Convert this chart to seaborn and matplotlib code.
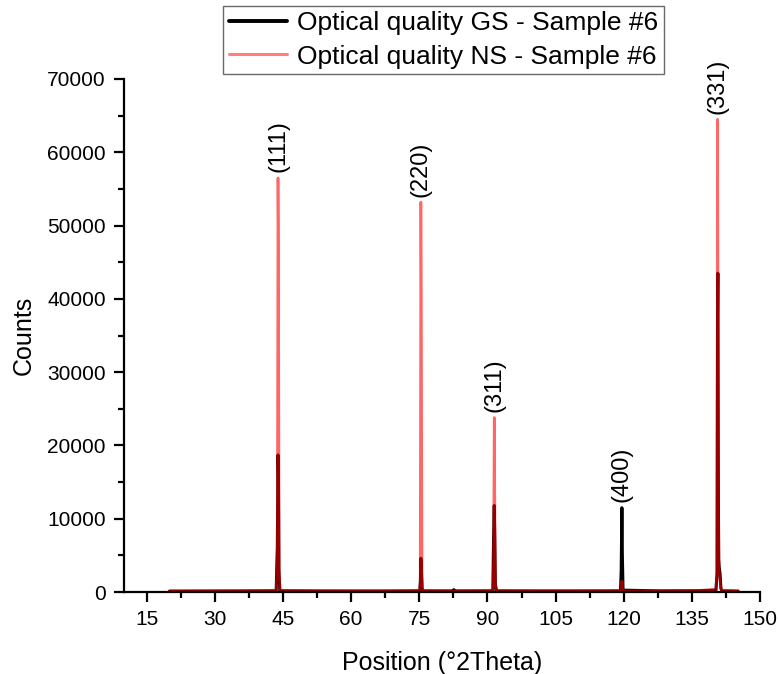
import numpy as np
import pandas as pd
import matplotlib
matplotlib.use("Agg")
import matplotlib.pyplot as plt
from matplotlib.ticker import MultipleLocator
import seaborn as sns

# Diffraction scan of the optical quality sample #6 (GS and NS), counts vs 2-theta
gs_two_theta = [20.0, 28.0, 36.0, 43.5, 43.75, 43.9, 44.0, 44.1, 44.3, 52.0, 60.0, 68.0,
                75.1, 75.25, 75.35, 75.45, 75.6, 75.8, 82.4, 82.6, 82.8, 91.2, 91.35,
                91.5, 91.6, 91.75, 92.0, 100.0, 110.0, 119.3, 119.45, 119.6, 119.7,
                119.85, 128.0, 136.0, 140.3, 140.55, 140.65, 140.72, 140.82, 140.9,
                141.0, 141.2, 141.4, 141.6, 145.2]
gs_counts = [120, 130, 140, 160, 6000, 18700, 15500, 3000, 160, 140, 130, 130,
             150, 1500, 4600, 3500, 500, 150, 140, 320, 140, 150, 7300,
             11800, 8000, 1000, 150, 140, 140, 150, 3000, 11500, 5000,
             250, 150, 170, 250, 2500, 38000, 43500, 16000, 4500,
             3500, 2500, 500, 150, 120]

ns_two_theta = [20.0, 28.0, 36.0, 43.5, 43.75, 43.9, 44.0, 44.15, 44.35, 52.0, 60.0,
                68.0, 75.1, 75.2, 75.35, 75.45, 75.6, 75.8, 84.0, 91.2, 91.35, 91.5,
                91.6, 91.75, 92.0, 100.0, 110.0, 119.4, 119.6, 119.8, 128.0, 136.0,
                140.3, 140.55, 140.65, 140.72, 140.82, 141.0, 141.2, 141.5, 145.2]
ns_counts = [120, 140, 150, 250, 5000, 56500, 47000, 3000, 250, 150, 140,
             160, 250, 1200, 53200, 40000, 2000, 160, 160, 250, 4000, 23800,
             15000, 1000, 200, 160, 160, 160, 1500, 160, 160, 200,
             350, 3000, 64500, 50000, 15000, 3000, 1500, 250, 120]

# Reflection labels and where they sit
hkl_labels = ["(111)", "(220)", "(311)", "(400)", "(331)"]
hkl_positions = [43.9, 75.35, 91.5, 119.6, 140.68]
hkl_tops = [56500, 53200, 23800, 11500, 64500]

gs_name = "Optical quality GS - Sample #6"
ns_name = "Optical quality NS - Sample #6"

sns.set_theme(style="ticks")
plt.rcParams["font.family"] = ["Liberation Sans", "DejaVu Sans"]
plt.rcParams["text.color"] = "black"
plt.rcParams["axes.labelcolor"] = "black"
plt.rcParams["xtick.color"] = "black"
plt.rcParams["ytick.color"] = "black"

fig = plt.figure(figsize=(7.79, 6.74), dpi=100)
ax = fig.add_axes([124 / 779, 1 - 592 / 674, (760 - 124) / 779, (592 - 79) / 674])

gs = pd.DataFrame({"theta": gs_two_theta, "counts": gs_counts})
ns = pd.DataFrame({"theta": ns_two_theta, "counts": ns_counts})

sns.lineplot(data=gs, x="theta", y="counts", color="black", lw=2.2, ax=ax,
             label=gs_name, legend=False)
sns.lineplot(data=ns, x="theta", y="counts", color="red", lw=1.9, alpha=0.6, ax=ax,
             label=ns_name, legend=False)

for lab, xp, top in zip(hkl_labels, hkl_positions, hkl_tops):
    ax.annotate(lab, xy=(xp, top), xytext=(0, 4), textcoords="offset points",
                rotation=90, ha="center", va="bottom", fontsize=17, color="black")

ax.set_xlim(10, 150)
ax.set_ylim(0, 70000)
ax.xaxis.set_major_locator(MultipleLocator(15))
ax.xaxis.set_minor_locator(MultipleLocator(7.5))
ax.yaxis.set_major_locator(MultipleLocator(10000))
ax.yaxis.set_minor_locator(MultipleLocator(5000))
ax.set_xticks(np.arange(15, 151, 15))

for side in ("top", "right"):
    ax.spines[side].set_visible(False)
for side in ("left", "bottom"):
    ax.spines[side].set_linewidth(1.6)
    ax.spines[side].set_color("black")

ax.tick_params(axis="x", which="major", direction="out", length=7, width=1.6,
               labelsize=15, colors="black", pad=6)
ax.tick_params(axis="y", which="major", direction="out", length=7, width=1.6,
               labelsize=15, colors="black", pad=6)
ax.tick_params(axis="both", which="minor", direction="out", length=4, width=1.6,
               colors="black")

ax.set_xlabel("Position (°2Theta)", fontsize=18, labelpad=16, color="black")
ax.set_ylabel("Counts", fontsize=18, labelpad=8, color="black")

handles, labels = ax.get_legend_handles_labels()
leg = fig.legend(handles, labels, loc="upper center",
                 bbox_to_anchor=(443.5 / 779, 1 - 6 / 674), fontsize=19,
                 frameon=True, fancybox=False, edgecolor="#444444",
                 handlelength=2.2, handletextpad=0.4, borderpad=0.2,
                 labelspacing=0.35, borderaxespad=0)
leg.get_frame().set_linewidth(1.0)
for t in leg.get_texts():
    t.set_color("black")
leg_lines = leg.get_lines()
leg_lines[0].set_linewidth(2.8)
leg_lines[1].set_linewidth(2.2)
leg_lines[1].set_alpha(0.5)

fig.savefig("out.png", dpi=100, facecolor="white")
